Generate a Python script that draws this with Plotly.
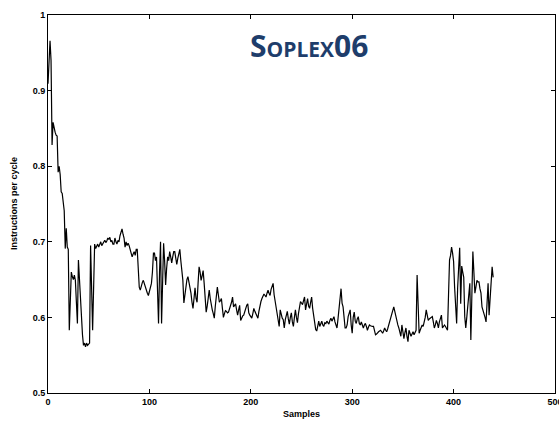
import plotly.graph_objects as go

title_text = "Soplex06"
x_label = "Samples"
y_label = "Instructions per cycle"

ipc = [
    0.909, 0.930, 0.966, 0.940, 0.828, 0.858, 0.850, 0.845, 0.841, 0.840,
    0.792, 0.800, 0.789, 0.766, 0.764, 0.752, 0.741, 0.691, 0.718, 0.693,
    0.690, 0.583, 0.620, 0.660, 0.654, 0.650, 0.656, 0.649, 0.620, 0.592,
    0.676, 0.650, 0.628, 0.590, 0.577, 0.563, 0.566, 0.561, 0.566, 0.563,
    0.565, 0.566, 0.695, 0.640, 0.583, 0.640, 0.697, 0.691, 0.694, 0.697,
    0.693, 0.697, 0.700, 0.695, 0.697, 0.700, 0.702, 0.699, 0.701, 0.705,
    0.703, 0.706, 0.700, 0.702, 0.697, 0.697, 0.705, 0.700, 0.697, 0.702,
    0.700, 0.708, 0.712, 0.717, 0.710, 0.705, 0.693, 0.700, 0.695, 0.698,
    0.695, 0.690, 0.685, 0.680, 0.684, 0.687, 0.682, 0.690, 0.690, 0.660,
    0.640, 0.636, 0.642, 0.646, 0.649, 0.644, 0.640, 0.636, 0.632, 0.629,
    0.635, 0.640, 0.645, 0.660, 0.685, 0.685, 0.675, 0.680, 0.630, 0.592,
    0.660, 0.700, 0.592, 0.650, 0.698, 0.675, 0.643, 0.665, 0.680, 0.675,
    0.687, 0.680, 0.672, 0.680, 0.687, 0.687, 0.678, 0.670, 0.678, 0.685,
    0.690, 0.675, 0.660, 0.649, 0.619, 0.630, 0.645, 0.650, 0.654, 0.648,
    0.640, 0.632, 0.620, 0.612, 0.625, 0.639, 0.625, 0.620, 0.645, 0.667,
    0.660, 0.649, 0.655, 0.662, 0.645, 0.629, 0.607, 0.615, 0.625, 0.636,
    0.625, 0.614, 0.610, 0.605, 0.599, 0.615, 0.630, 0.640, 0.630, 0.620,
    0.622, 0.625, 0.612, 0.600, 0.605, 0.609, 0.608, 0.606, 0.607, 0.611,
    0.614, 0.620, 0.627, 0.614, 0.616, 0.618, 0.610, 0.603, 0.610, 0.616,
    0.596, 0.600, 0.602, 0.603, 0.608, 0.614, 0.616, 0.618, 0.606, 0.603,
    0.601, 0.599, 0.605, 0.612, 0.608, 0.605, 0.602, 0.599, 0.608, 0.618,
    0.621, 0.625, 0.628, 0.631, 0.629, 0.627, 0.632, 0.636, 0.632, 0.629,
    0.637, 0.642, 0.645, 0.630, 0.621, 0.610, 0.603, 0.595, 0.588, 0.610,
    0.604, 0.599, 0.597, 0.586, 0.597, 0.603, 0.608, 0.598, 0.591, 0.600,
    0.606, 0.594, 0.588, 0.600, 0.610, 0.600, 0.593, 0.605, 0.612, 0.621,
    0.619, 0.617, 0.622, 0.627, 0.610, 0.618, 0.625, 0.615, 0.612, 0.620,
    0.627, 0.612, 0.603, 0.588, 0.584, 0.582, 0.590, 0.595, 0.588, 0.592,
    0.595, 0.590, 0.588, 0.593, 0.592, 0.595, 0.593, 0.591, 0.596, 0.599,
    0.595, 0.598, 0.601, 0.594, 0.588, 0.586, 0.598, 0.612, 0.630, 0.638,
    0.619, 0.614, 0.600, 0.586, 0.586, 0.590, 0.601, 0.606, 0.610, 0.590,
    0.579, 0.600, 0.607, 0.595, 0.592, 0.598, 0.601, 0.592, 0.590, 0.594,
    0.590, 0.586, 0.590, 0.592, 0.588, 0.583, 0.587, 0.590, 0.589, 0.588,
    0.588, 0.588, 0.582, 0.577, 0.578, 0.580, 0.581, 0.582, 0.583, 0.581,
    0.579, 0.582, 0.586, 0.583, 0.581, 0.585, 0.590, 0.594, 0.598, 0.603,
    0.609, 0.614, 0.608, 0.601, 0.595, 0.590, 0.586, 0.580, 0.575, 0.590,
    0.580, 0.572, 0.580, 0.586, 0.575, 0.568, 0.583, 0.578, 0.575, 0.578,
    0.581, 0.577, 0.580, 0.583, 0.656, 0.620, 0.579, 0.583, 0.586, 0.590,
    0.588, 0.593, 0.600, 0.610, 0.603, 0.596, 0.598, 0.599, 0.600, 0.601,
    0.594, 0.586, 0.590, 0.596, 0.592, 0.586, 0.594, 0.600, 0.603, 0.586,
    0.588, 0.590, 0.588, 0.586, 0.583, 0.630, 0.676, 0.682, 0.693, 0.685,
    0.674, 0.640, 0.607, 0.592, 0.640, 0.680, 0.692, 0.618, 0.668, 0.660,
    0.653, 0.601, 0.586, 0.600, 0.614, 0.630, 0.645, 0.570, 0.630, 0.687,
    0.660, 0.632, 0.640, 0.649, 0.647, 0.647, 0.638, 0.632, 0.614, 0.610,
    0.603, 0.600, 0.594, 0.620, 0.645, 0.603, 0.630, 0.658, 0.667, 0.653,
]
samples = list(range(len(ipc)))

x_ticks = [0, 100, 200, 300, 400, 500]
y_ticks = [0.5, 0.6, 0.7, 0.8, 0.9, 1.0]

fig = go.Figure()
fig.add_trace(go.Scatter(x=samples, y=ipc, mode="lines",
                         line=dict(color="black", width=1.2),
                         showlegend=False, hoverinfo="skip"))

axis_font = dict(family="Liberation Sans, Arial, sans-serif", size=9,
                 color="black", weight="bold")

fig.update_layout(
    width=559, height=423,
    margin=dict(l=48, r=4, t=15, b=30, autoexpand=False),
    paper_bgcolor="white", plot_bgcolor="white",
    xaxis=dict(range=[0, 500], tickvals=x_ticks, ticks="inside", ticklen=4,
               tickcolor="black", showline=True, linecolor="black",
               linewidth=1, mirror="ticks", showgrid=False, zeroline=False,
               tickfont=axis_font, ticklabeloverflow="allow",
               automargin=False),
    yaxis=dict(range=[0.5, 1.0], tickvals=y_ticks, ticks="inside", ticklen=4,
               tickcolor="black", showline=True, linecolor="black",
               linewidth=1, mirror="ticks", showgrid=False, zeroline=False,
               tickfont=axis_font, automargin=False),
    annotations=[
        dict(text=title_text, xref="paper", yref="paper",
             x=0.515, y=0.92, xanchor="center", yanchor="middle",
             showarrow=False,
             font=dict(family="Open Sans, sans-serif", size=30,
                       color="#1e3d6b", weight="bold", variant="small-caps")),
        dict(text=x_label, xref="paper", yref="paper",
             x=0.5, y=-0.056, xanchor="center", yanchor="middle",
             showarrow=False, font=axis_font),
        dict(text=y_label, xref="paper", yref="paper",
             x=-0.067, y=0.5, xanchor="center", yanchor="middle",
             textangle=-90, showarrow=False, font=axis_font),
    ],
)

fig.write_html("out.html",
               config={"displayModeBar": False},
               post_script="document.body.style.margin='0';"
                           "document.body.style.overflow='hidden';")
